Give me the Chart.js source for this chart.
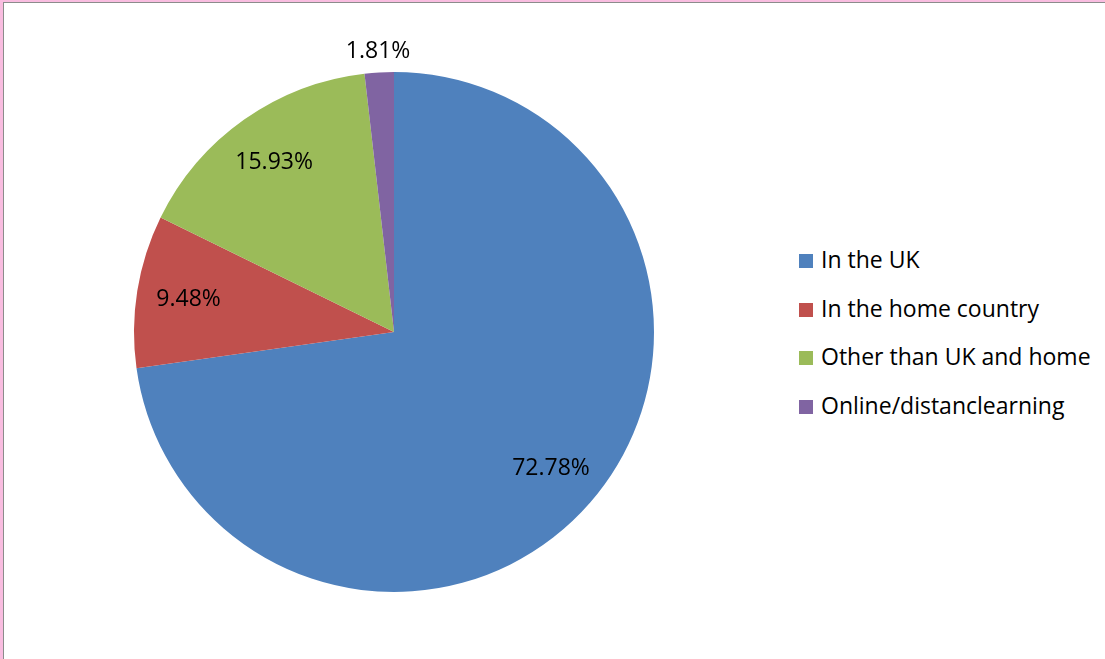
<!DOCTYPE html>
<html>
<head>
<meta charset="utf-8">
<script src="https://cdn.jsdelivr.net/npm/chart.js@4/dist/chart.umd.min.js"></script>
<style>
    html, body { margin: 0; padding: 0; background: #fff; }
    #moldura {
        position: absolute; left: 0; top: 0; width: 1102px; height: 657px;
        border-left: 3px solid #f9bde0; border-top: 2px solid #f9bde0;
        background: #fff; overflow: hidden;
    }
    #interno {
        position: absolute; left: 0; top: 0; right: 0; bottom: 0;
        border-left: 1px solid #8c8c8c; border-top: 1px solid #8c8c8c;
    }
    #pizza { position: absolute; left: 90px; top: 29px; width: 600px; height: 600px; }
    #legenda {
        position: absolute; left: 795px; top: 241px;
        font-family: "Open Sans", Lato, sans-serif; font-size: 23px; color: #000;
    }
    .item { height: 48.5px; display: flex; align-items: flex-start; line-height: 30px; }
    .quadrado { width: 14px; height: 14px; margin: 10px 8px 0 0; flex: none; }
</style>
</head>
<body>
<div id="moldura"><div id="interno">
    <div id="pizza"><canvas id="graficoPizza"></canvas></div>
    <div id="legenda"></div>
</div></div>
<script>
// Onde os alunos estudaram
const categorias = ['In the UK', 'In the home country', 'Other than UK and home', 'Online/distanclearning'];
const percentuais = [72.78, 9.48, 15.93, 1.81];
const cores = ['#4f81bd', '#c0504d', '#9bbb59', '#8064a2'];

// Legenda em HTML
const legenda = document.getElementById('legenda');
categorias.forEach((cat, i) => {
    const div = document.createElement('div');
    div.className = 'item';
    div.innerHTML = `<span class="quadrado" style="background:${cores[i]}"></span><span>${cat}</span>`;
    legenda.appendChild(div);
});

// Plugin simples para escrever os percentuais sobre as fatias
const rotulos = {
    id: 'rotulos',
    afterDatasetsDraw(chart) {
        const ctx = chart.ctx;
        const meta = chart.getDatasetMeta(0);
        ctx.save();
        ctx.font = '23px "Open Sans", Lato, sans-serif';
        ctx.fillStyle = '#000';
        ctx.textAlign = 'center';
        ctx.textBaseline = 'middle';
        meta.data.forEach((arc, i) => {
            const meio = (arc.startAngle + arc.endAngle) / 2;
            // fatias pequenas ficam do lado de fora
            const r = percentuais[i] < 5 ? arc.outerRadius * 1.08 : arc.outerRadius * 0.8;
            const x = arc.x + Math.cos(meio) * r;
            const y = arc.y + Math.sin(meio) * r;
            ctx.fillText(percentuais[i].toFixed(2) + '%', x, y);
        });
        ctx.restore();
    }
};

new Chart(document.getElementById('graficoPizza'), {
    type: 'pie',
    data: {
        labels: categorias,
        datasets: [{
            data: percentuais,
            backgroundColor: cores,
            borderWidth: 0
        }]
    },
    options: {
        responsive: true,
        maintainAspectRatio: false,
        animation: false,
        layout: { padding: 40 },
        plugins: {
            legend: { display: false },
            tooltip: { enabled: false }
        }
    },
    plugins: [rotulos]
});
</script>
</body>
</html>
